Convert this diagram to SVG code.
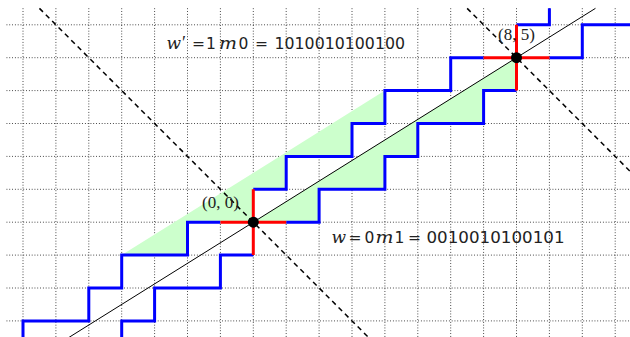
<svg xmlns="http://www.w3.org/2000/svg" width="630" height="337" viewBox="0 0 630 337">
<style>
.grid{stroke:#222;stroke-width:1;stroke-dasharray:0.8 2;fill:none}
.blue{stroke:#0000ff;stroke-width:3;fill:none;stroke-linejoin:miter}
.red{stroke:#ff0000;stroke-width:3;fill:none}
.dash{stroke:#000;stroke-width:1.5;stroke-dasharray:5 4;fill:none}
.green{fill:#ccffcc;stroke:none}
.lbl{font-family:"Liberation Serif",serif;font-size:17px;fill:#222}
.var{font-family:"DejaVu Serif",serif;font-style:italic;font-size:17px;fill:#222}
.math{font-family:"Liberation Serif",serif;font-size:18px;fill:#222}
.eq{font-family:"DejaVu Sans",sans-serif;font-size:15.5px;fill:#222}
.dig{font-family:"DejaVu Sans",sans-serif;font-size:15.5px;fill:#222}
</style>
<rect width="630" height="337" fill="#ffffff"/>
<g id="grid" class="grid">
<path d="M6.55 24.8H631.65M6.55 57.7H631.65M6.55 90.6H631.65M6.55 123.5H631.65M6.55 156.4H631.65M6.55 189.3H631.65M6.55 222.2H631.65M6.55 255.1H631.65M6.55 288H631.65M6.55 320.9H631.65"/>
<path d="M23 8.35V337.35M55.9 8.35V337.35M88.8 8.35V337.35M121.7 8.35V337.35M154.6 8.35V337.35M187.5 8.35V337.35M220.4 8.35V337.35M253.3 8.35V337.35M286.2 8.35V337.35M319.1 8.35V337.35M352 8.35V337.35M384.9 8.35V337.35M417.8 8.35V337.35M450.7 8.35V337.35M483.6 8.35V337.35M516.5 8.35V337.35M549.4 8.35V337.35M582.3 8.35V337.35M615.2 8.35V337.35"/>
</g>
<g id="green-regions">
<path class="green" d="M121.7 255.1L384.9 90.6V123.5H352V156.4H286.2V189.3H253.3V222.2H187.5V255.1Z"/>
<path class="green" d="M253.3 222.2L516.5 57.7V90.6H483.6V123.5H417.8V156.4H384.9V189.3H319.1V222.2Z"/>
</g>
<g id="connectors">
<path class="dash" d="M39.45 8.35L368.45 337.35"/>
<path class="dash" d="M467.15 8.35L631.65 172.85"/>
<path d="M69.06 337.35L595.46 8.35" stroke="#000" stroke-width="1" fill="none"/>
<g id="upper-path" class="blue">
<path d="M23 337.35V320.9H88.8V288H121.7V255.1H187.5V222.2H220.4"/>
<path d="M253.3 189.3H286.2V156.4H352V123.5H384.9V90.6H450.7V57.7H483.6"/>
<path d="M516.5 24.8H549.4V8.35"/>
</g>
<g id="lower-path" class="blue">
<path d="M121.7 337.35V320.9H154.6V288H220.4V255.1H253.3"/>
<path d="M286.2 222.2H319.1V189.3H384.9V156.4H417.8V123.5H483.6V90.6H516.5"/>
<path d="M549.4 57.7H582.3V24.8H631.65"/>
</g>
<g id="red-cross" class="red">
<path d="M220.4 222.2H286.2M253.3 189.3V255.1"/>
<path d="M483.6 57.7H549.4M516.5 24.8V90.6"/>
</g>
</g>
<g id="node-origin">
<circle cx="253.3" cy="222.2" r="5.5" fill="#000"/>
<text class="lbl" x="220.5" y="208" text-anchor="middle">(0, 0)</text>
</g>
<g id="node-end">
<circle cx="516.5" cy="57.7" r="5.5" fill="#000"/>
<text class="lbl" x="516.5" y="40" text-anchor="middle">(8, 5)</text>
</g>
<g id="label-wprime">
<text y="49"><tspan class="var" x="166.5">w</tspan><tspan class="math" x="182">′</tspan><tspan class="eq" x="192">=</tspan><tspan class="dig" x="206">1</tspan><tspan class="var" x="219" textLength="18" lengthAdjust="spacingAndGlyphs">m</tspan><tspan class="dig" x="238.5">0</tspan><tspan class="eq" x="255">=</tspan><tspan class="dig" x="274.5" textLength="130.5" lengthAdjust="spacingAndGlyphs">1010010100100</tspan></text>
</g>
<g id="label-w">
<text y="243"><tspan class="var" x="331.5">w</tspan><tspan class="eq" x="348.5">=</tspan><tspan class="dig" x="364.5">0</tspan><tspan class="var" x="375.5" textLength="18" lengthAdjust="spacingAndGlyphs">m</tspan><tspan class="dig" x="394.5">1</tspan><tspan class="eq" x="408">=</tspan><tspan class="dig" x="426.5" textLength="138" lengthAdjust="spacingAndGlyphs">0010010100101</tspan></text>
</g>
</svg>
